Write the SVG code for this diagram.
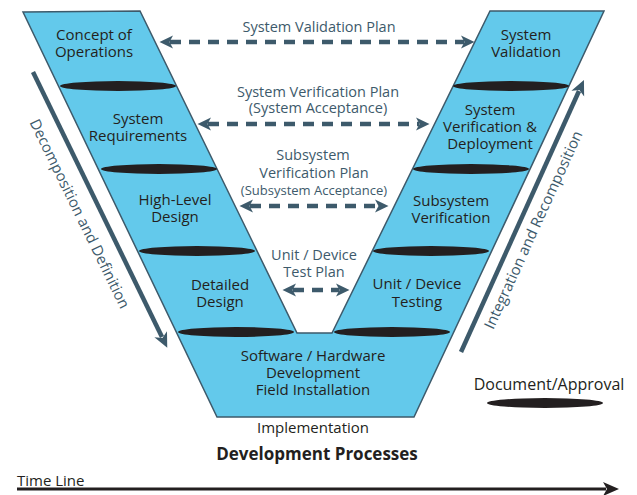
<svg xmlns="http://www.w3.org/2000/svg" width="637" height="495" viewBox="0 0 637 495">
<style>
.lbl{font-family:"Open Sans","Noto Sans",sans-serif;font-size:15px;fill:#231f20;text-anchor:middle}
.plan{font-family:"Open Sans","Noto Sans",sans-serif;font-size:14.5px;fill:#3d5a6b;text-anchor:middle}
.side{font-family:"Open Sans","Noto Sans",sans-serif;font-size:15px;fill:#3d5a6b;text-anchor:middle}
.doc{fill:#231f20}
.dash{stroke:#3d5a6b;stroke-width:4.5;stroke-dasharray:11 8;fill:none}
.sidel{stroke:#3d5a6b;stroke-width:4.5;fill:none}
</style>
<defs>
<marker id="ah" markerUnits="userSpaceOnUse" markerWidth="14" markerHeight="14" refX="3" refY="6.5" orient="auto-start-reverse" viewBox="0 0 14 13">
<path d="M0,0 L13.5,6.5 L0,13 L3.5,6.5 Z" fill="#3d5a6b"/>
</marker>
<marker id="ahs" markerUnits="userSpaceOnUse" markerWidth="16" markerHeight="16" refX="3" refY="7" orient="auto" viewBox="0 0 16 14">
<path d="M0,0 L15,7 L0,14 L4,7 Z" fill="#3d5a6b"/>
</marker>
<marker id="aht" markerUnits="userSpaceOnUse" markerWidth="18" markerHeight="16" refX="3" refY="7" orient="auto" viewBox="0 0 18 14">
<path d="M0,0 L16,7 L0,14 L4,7 Z" fill="#231f20"/>
</marker>
</defs>
<g id="v-shape">
<polygon points="23,12 140,11 297,333 332,333 490,11 604,11 414,417 217,417" fill="#63c9eb" stroke="#3d5a6b" stroke-width="1.5" stroke-linejoin="miter"/>
</g>
<g id="approvals">
<ellipse class="doc" cx="118" cy="86" rx="58" ry="5"/>
<ellipse class="doc" cx="159" cy="169" rx="58" ry="5"/>
<ellipse class="doc" cx="197" cy="251" rx="58" ry="5"/>
<ellipse class="doc" cx="236" cy="332" rx="58" ry="5"/>
<ellipse class="doc" cx="511" cy="86" rx="58" ry="5"/>
<ellipse class="doc" cx="471" cy="169" rx="58" ry="5"/>
<ellipse class="doc" cx="431" cy="251" rx="58" ry="5"/>
<ellipse class="doc" cx="392" cy="332" rx="58" ry="5"/>
</g>
<g id="concept-of-operations"><text class="lbl" x="94" y="40">Concept of</text><text class="lbl" x="94" y="57">Operations</text></g>
<g id="system-requirements"><text class="lbl" x="138" y="124">System</text><text class="lbl" x="138" y="141">Requirements</text></g>
<g id="high-level-design"><text class="lbl" x="175" y="205">High-Level</text><text class="lbl" x="175" y="222">Design</text></g>
<g id="detailed-design"><text class="lbl" x="220" y="290">Detailed</text><text class="lbl" x="220" y="307">Design</text></g>
<g id="implementation-phase"><text class="lbl" x="313" y="361">Software / Hardware</text><text class="lbl" x="313" y="378">Development</text><text class="lbl" x="313" y="395">Field Installation</text></g>
<g id="unit-device-testing"><text class="lbl" x="417" y="289">Unit / Device</text><text class="lbl" x="417" y="307">Testing</text></g>
<g id="subsystem-verification"><text class="lbl" x="451" y="206">Subsystem</text><text class="lbl" x="451" y="223">Verification</text></g>
<g id="system-verification-deployment"><text class="lbl" x="490" y="115">System</text><text class="lbl" x="490" y="132">Verification &amp;</text><text class="lbl" x="490" y="149">Deployment</text></g>
<g id="system-validation"><text class="lbl" x="526" y="40">System</text><text class="lbl" x="526" y="57">Validation</text></g>
<g id="connectors">
<line class="dash" x1="170" y1="42" x2="464" y2="42" marker-start="url(#ah)" marker-end="url(#ah)"/>
<line class="dash" x1="208" y1="124" x2="419" y2="124" marker-start="url(#ah)" marker-end="url(#ah)"/>
<line class="dash" x1="250" y1="206" x2="378" y2="206" marker-start="url(#ah)" marker-end="url(#ah)"/>
<line class="dash" x1="293" y1="290" x2="339" y2="290" marker-start="url(#ah)" marker-end="url(#ah)"/>
<line class="sidel" x1="33" y1="72" x2="162" y2="337" marker-end="url(#ahs)"/>
<line class="sidel" x1="461" y1="352" x2="579" y2="91" marker-end="url(#ahs)"/>
<line x1="17" y1="489" x2="606" y2="489" stroke="#231f20" stroke-width="3" marker-end="url(#aht)"/>
</g>
<g id="plan-labels">
<text class="plan" x="319" y="32">System Validation Plan</text>
<text class="plan" x="318" y="97">System Verification Plan</text>
<text class="plan" x="318" y="113">(System Acceptance)</text>
<text class="plan" x="313" y="160">Subsystem</text>
<text class="plan" x="314" y="178">Verification Plan</text>
<text class="plan" x="314" y="195" style="font-size:13px">(Subsystem Acceptance)</text>
<text class="plan" x="314" y="260">Unit / Device</text>
<text class="plan" x="314" y="277">Test Plan</text>
</g>
<g id="side-labels">
<text class="side" transform="translate(75,216) rotate(64)">Decomposition and Definition</text>
<text class="side" transform="translate(538,232) rotate(-65.5)">Integration and Recomposition</text>
</g>
<g id="legend">
<text class="lbl" x="549" y="390" style="font-size:16px">Document/Approval</text>
<ellipse class="doc" cx="545" cy="403" rx="58" ry="5"/>
</g>
<g id="footer">
<text class="lbl" x="313" y="433">Implementation</text>
<text class="lbl" x="317" y="460" style="font-size:17px;font-weight:bold">Development Processes</text>
<text class="lbl" x="17" y="486" style="text-anchor:start">Time Line</text>
</g>
</svg>
